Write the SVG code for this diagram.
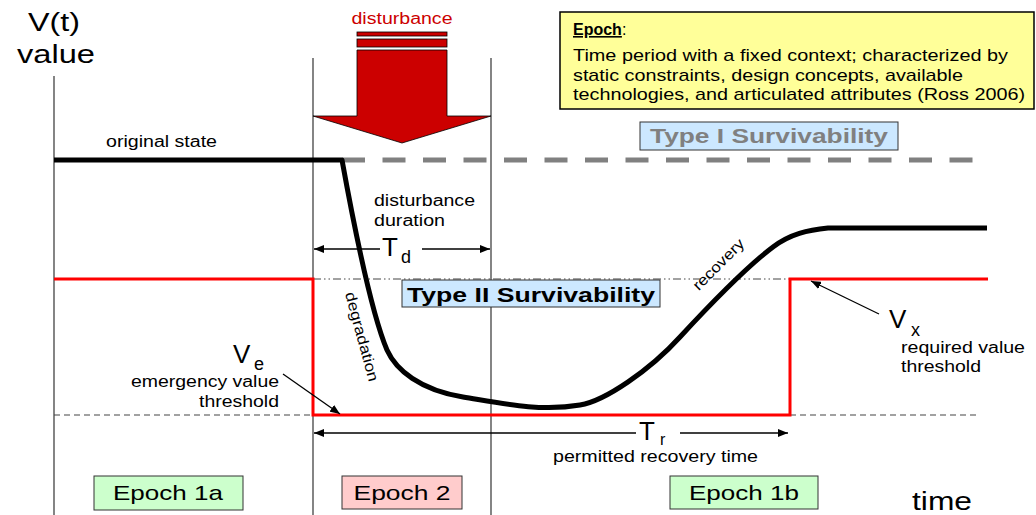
<svg xmlns="http://www.w3.org/2000/svg" width="1036" height="515" viewBox="0 0 1036 515">
  <style>
    text { font-family: "Liberation Sans", Arial, sans-serif; fill: #000; }
    .lbl { font-size: 16px; }
    .big { font-size: 26px; }
    .sub { font-size: 18px; }
    .box { font-size: 21px; }
    .guide { stroke: #333; stroke-width: 1.2; fill: none; }
    .conn { stroke: #000; stroke-width: 1.3; fill: none; }
    .epoch { stroke: #333; stroke-width: 1; }
  </style>
  <defs>
    <marker id="head" viewBox="0 0 10 8" refX="10" refY="4" markerWidth="10" markerHeight="8" markerUnits="userSpaceOnUse" orient="auto">
      <path d="M0,0 L10,4 L0,8 Z" fill="#000"/>
    </marker>
  </defs>

  <!-- axis and epoch boundaries -->
  <g id="axes">
    <line class="guide" x1="54" y1="76" x2="54" y2="515"/>
    <line class="guide" x1="313" y1="58" x2="313" y2="515"/>
    <line class="guide" x1="491" y1="58" x2="491" y2="515"/>
    <text class="big" x="54" y="31" text-anchor="middle" textLength="52" lengthAdjust="spacingAndGlyphs">V(t)</text>
    <text class="big" x="56" y="63" text-anchor="middle" textLength="78" lengthAdjust="spacingAndGlyphs">value</text>
    <text class="big" x="912" y="510" textLength="60" lengthAdjust="spacingAndGlyphs">time</text>
  </g>

  <!-- epoch definition -->
  <g id="epoch-definition">
    <rect x="560" y="12" width="474" height="97" fill="#ffff99" stroke="#000" stroke-width="1.5"/>
    <text x="573" y="35" style="font-size:16px"><tspan font-weight="bold" text-decoration="underline">Epoch</tspan>:</text>
    <text class="lbl" x="573" y="61" style="font-size:17px" textLength="435" lengthAdjust="spacingAndGlyphs">Time period with a fixed context; characterized by</text>
    <text class="lbl" x="573" y="81" style="font-size:17px" textLength="390" lengthAdjust="spacingAndGlyphs">static constraints, design concepts, available</text>
    <text class="lbl" x="573" y="100" style="font-size:17px" textLength="452" lengthAdjust="spacingAndGlyphs">technologies, and articulated attributes (Ross 2006)</text>
  </g>

  <!-- disturbance block arrow -->
  <g id="disturbance">
    <text x="402" y="24" text-anchor="middle" style="font-size:16px;fill:#cc0000" textLength="101" lengthAdjust="spacingAndGlyphs">disturbance</text>
    <rect x="357" y="32" width="90" height="4" fill="#cc0000" stroke="#000" stroke-width="0.8"/>
    <rect x="357" y="39" width="90" height="8" fill="#cc0000" stroke="#000" stroke-width="0.8"/>
    <path d="M357,50 H447 V116 H491 L402,143 L313,116 H357 Z" fill="#cc0000" stroke="#000" stroke-width="0.8"/>
  </g>

  <!-- Type I survivability -->
  <g id="type1">
    <line x1="342" y1="160" x2="973" y2="160" stroke="#808080" stroke-width="5" stroke-dasharray="23 17.5"/>
    <rect x="640" y="122" width="258" height="28" fill="#cce8ff" stroke="#333" stroke-width="1"/>
    <text class="box" x="769" y="143" text-anchor="middle" font-weight="bold" style="fill:#808080" textLength="238" lengthAdjust="spacingAndGlyphs">Type I Survivability</text>
  </g>

  <!-- thresholds -->
  <g id="thresholds">
    <line x1="313" y1="279" x2="790" y2="279" stroke="#444" stroke-width="1" stroke-dasharray="8 3 1.5 3 1.5 3"/>
    <line x1="54" y1="415" x2="313" y2="415" stroke="#444" stroke-width="1.2" stroke-dasharray="6 4"/>
    <line x1="790" y1="415" x2="980" y2="415" stroke="#444" stroke-width="1.2" stroke-dasharray="6 4"/>
    <path d="M54,279 H313 V415 H790 V279 H988" fill="none" stroke="#ff0000" stroke-width="3"/>
  </g>

  <!-- Type II survivability -->
  <g id="type2">
    <rect x="402" y="280" width="258" height="27" fill="#cce8ff" stroke="#333" stroke-width="1"/>
    <text class="box" x="531" y="302" text-anchor="middle" font-weight="bold" textLength="248" lengthAdjust="spacingAndGlyphs">Type II Survivability</text>
  </g>

  <!-- system value over time -->
  <g id="value-curve">
    <path d="M54,160 H342 C352,215 370,310 387,350 C396,370 420,390 463,397 C500,403 540,412 580,405 C605,401 650,370 680,337 C705,310 745,268 773,247 C790,234 808,230 828,228 H987" fill="none" stroke="#000" stroke-width="5" stroke-linejoin="round"/>
    <text class="lbl" x="106" y="147" textLength="111" lengthAdjust="spacingAndGlyphs">original state</text>
    <text x="0" y="0" text-anchor="middle" style="font-size:15px" transform="translate(357,338) rotate(75)" textLength="92" lengthAdjust="spacingAndGlyphs">degradation</text>
    <text x="0" y="0" text-anchor="middle" style="font-size:15px" transform="translate(722,268) rotate(-45)" textLength="66" lengthAdjust="spacingAndGlyphs">recovery</text>
  </g>

  <!-- annotations -->
  <g id="td-label">
    <text class="lbl" x="374" y="206" textLength="101" lengthAdjust="spacingAndGlyphs">disturbance</text>
    <text class="lbl" x="374" y="226" textLength="71" lengthAdjust="spacingAndGlyphs">duration</text>
    <text class="big" x="382" y="256">T</text>
    <text class="sub" x="401" y="263">d</text>
  </g>
  <g id="tr-label">
    <text class="big" x="639" y="440">T</text>
    <text class="sub" x="660" y="445" style="font-size:16px">r</text>
    <text class="lbl" x="553" y="462" textLength="205" lengthAdjust="spacingAndGlyphs">permitted recovery time</text>
  </g>
  <g id="ve-label">
    <text class="big" x="233" y="363">V</text>
    <text class="sub" x="254" y="370">e</text>
    <text class="lbl" x="279" y="387" text-anchor="end" textLength="148" lengthAdjust="spacingAndGlyphs">emergency value</text>
    <text class="lbl" x="279" y="407" text-anchor="end" textLength="80" lengthAdjust="spacingAndGlyphs">threshold</text>
  </g>
  <g id="vx-label">
    <text class="big" x="889" y="328">V</text>
    <text class="sub" x="911" y="336">x</text>
    <text class="lbl" x="901" y="353" textLength="124" lengthAdjust="spacingAndGlyphs">required value</text>
    <text class="lbl" x="901" y="372" textLength="80" lengthAdjust="spacingAndGlyphs">threshold</text>
  </g>

  <!-- epochs -->
  <g id="epoch-1a">
    <rect class="epoch" x="94" y="476" width="149" height="34" fill="#ccffcc"/>
    <text class="box" x="168" y="500" text-anchor="middle" textLength="110" lengthAdjust="spacingAndGlyphs">Epoch 1a</text>
  </g>
  <g id="epoch-2">
    <rect class="epoch" x="342" y="476" width="120" height="33" fill="#ffcccc"/>
    <text class="box" x="402" y="500" text-anchor="middle" textLength="97" lengthAdjust="spacingAndGlyphs">Epoch 2</text>
  </g>
  <g id="epoch-1b">
    <rect class="epoch" x="670" y="476" width="148" height="33" fill="#ccffcc"/>
    <text class="box" x="744" y="500" text-anchor="middle" textLength="110" lengthAdjust="spacingAndGlyphs">Epoch 1b</text>
  </g>

  <!-- connectors -->
  <g id="connectors">
    <line class="conn" x1="380" y1="249" x2="314" y2="249" marker-end="url(#head)"/>
    <line class="conn" x1="422" y1="249" x2="490" y2="249" marker-end="url(#head)"/>
    <line class="conn" x1="636" y1="433" x2="314" y2="433" marker-end="url(#head)"/>
    <line class="conn" x1="680" y1="433" x2="788" y2="433" marker-end="url(#head)"/>
    <line class="conn" x1="283" y1="374" x2="340" y2="414" marker-end="url(#head)"/>
    <line class="conn" x1="879" y1="314" x2="811" y2="281" marker-end="url(#head)"/>
  </g>
</svg>
